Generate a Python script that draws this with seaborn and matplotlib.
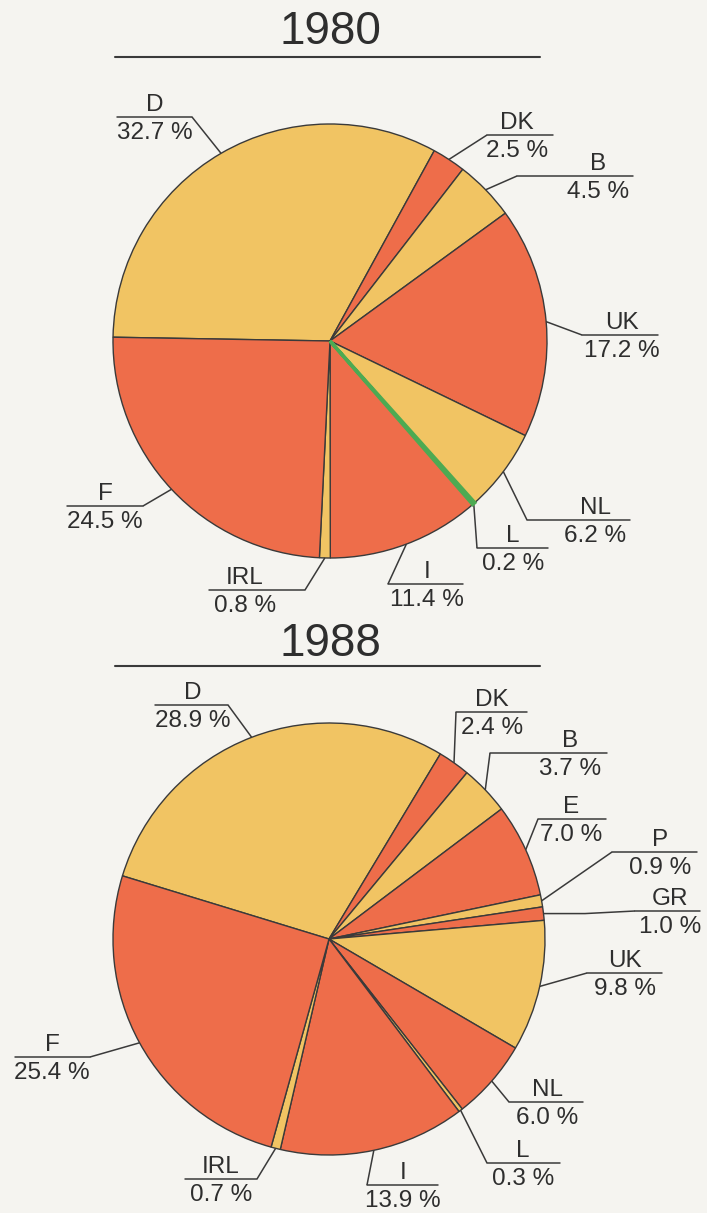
import numpy as np
import matplotlib
matplotlib.use("Agg")
import matplotlib.pyplot as plt
import seaborn as sns

# Shares of EC total by member state (%), clockwise from the left
countries_1980 = ["D", "DK", "B", "UK", "NL", "L", "I", "IRL", "F"]
shares_1980 = [32.7, 2.5, 4.5, 17.2, 6.2, 0.2, 11.4, 0.8, 24.5]

countries_1988 = ["D", "DK", "B", "E", "P", "GR", "UK", "NL", "L", "I", "IRL", "F"]
shares_1988 = [28.9, 2.4, 3.7, 7.0, 0.9, 1.0, 9.8, 6.0, 0.3, 13.9, 0.7, 25.4]

YELLOW = "#F1C463"
RED = "#EE6D4A"
GREEN = "#4DAA52"
colors_1980 = [YELLOW, RED, YELLOW, RED, YELLOW, GREEN, RED, YELLOW, RED]
colors_1988 = [YELLOW, RED] * 6

W, H = 707, 1213
BG = "#F5F4F0"
INK = "#2E2E2E"
LINE = "#3A3A3A"

# label layout in pixel coords: text x, underline y, underline x0, x1, elbow x
layout_1980 = {
    "D": (155, 117, 117, 192, None),
    "DK": (517, 135, 487, 553, None),
    "B": (598, 176, 517, 633, None),
    "UK": (622, 335, 582, 658, None),
    "NL": (595, 520, 527, 630, None),
    "L": (513, 548, 477, 548, None),
    "I": (427, 584, 388, 463, None),
    "IRL": (245, 590, 209, 305, None),
    "F": (105, 506, 67, 143, None),
}
layout_1988 = {
    "D": (193, 705, 155, 228, None),
    "DK": (492, 712, 456, 527, None),
    "B": (570, 753, 490, 607, None),
    "E": (571, 819, 538, 606, None),
    "P": (660, 852, 612, 697, None),
    "GR": (670, 911, 635, 700, 585),
    "UK": (625, 973, 587, 662, None),
    "NL": (547, 1102, 509, 583, None),
    "L": (523, 1163, 487, 560, None),
    "I": (403, 1185, 367, 438, None),
    "IRL": (221, 1179, 185, 257, None),
    "F": (52, 1057, 15, 90, None),
}


def P(x, y):
    # pixel (top-left origin) -> data coords (y up)
    return x, H - y


sns.set_theme(style="white")
plt.rcParams["font.family"] = ["Liberation Sans", "DejaVu Sans"]

fig = plt.figure(figsize=(W / 100, H / 100), dpi=100, facecolor=BG)
ax = fig.add_axes([0, 0, 1, 1])
ax.set_facecolor(BG)


def draw_pie(names, shares, colors, center, radius, start, layout, title, title_y, rule_y):
    cx, cy = P(*center)
    wedges, _ = ax.pie(shares, colors=colors, startangle=start, counterclock=False,
                       center=(cx, cy), radius=radius,
                       wedgeprops=dict(edgecolor=LINE, linewidth=1.0))
    for name, share, w, col in zip(names, shares, wedges, colors):
        if col == GREEN:
            # thin slice: outline in its own colour so it stays visible
            w.set_edgecolor(GREEN)
            w.set_linewidth(2.5)
            w.set_zorder(3)
        tx, ly, x0, x1, elbow = layout[name]
        mid = np.deg2rad((w.theta1 + w.theta2) / 2)
        ax_ = cx + radius * np.cos(mid)
        ay_ = cy + radius * np.sin(mid)
        end_x = x0 if abs(x0 - center[0]) < abs(x1 - center[0]) else x1
        pts = [(ax_, ay_)]
        if elbow is not None:
            pts.append((elbow, ay_))
        pts.append(P(end_x, ly))
        xs, ys = zip(*pts)
        ax.plot(xs, ys, color=LINE, lw=1.1, solid_capstyle="butt")
        ax.plot([x0, x1], [H - ly, H - ly], color=LINE, lw=1.1)
        ax.text(tx, H - ly + 6, name, ha="center", va="baseline",
                fontsize=17.5, color=INK)
        ax.text(tx, H - ly - 22, f"{share:.1f} %", ha="center", va="baseline",
                fontsize=17.5, color=INK)
    ax.text(330, H - title_y, title, ha="center", va="center", fontsize=33, color=INK)
    ax.plot([115, 540], [H - rule_y, H - rule_y], color=LINE, lw=1.5)


draw_pie(countries_1980, shares_1980, colors_1980, (330, 341), 217, 179,
         layout_1980, "1980", 32, 57)
draw_pie(countries_1988, shares_1988, colors_1988, (329, 939), 216, 163,
         layout_1988, "1988", 644, 666)

ax.set_xlim(0, W)
ax.set_ylim(0, H)
ax.set_aspect("equal")
ax.axis("off")

fig.savefig("out.png", dpi=100, facecolor=BG)
